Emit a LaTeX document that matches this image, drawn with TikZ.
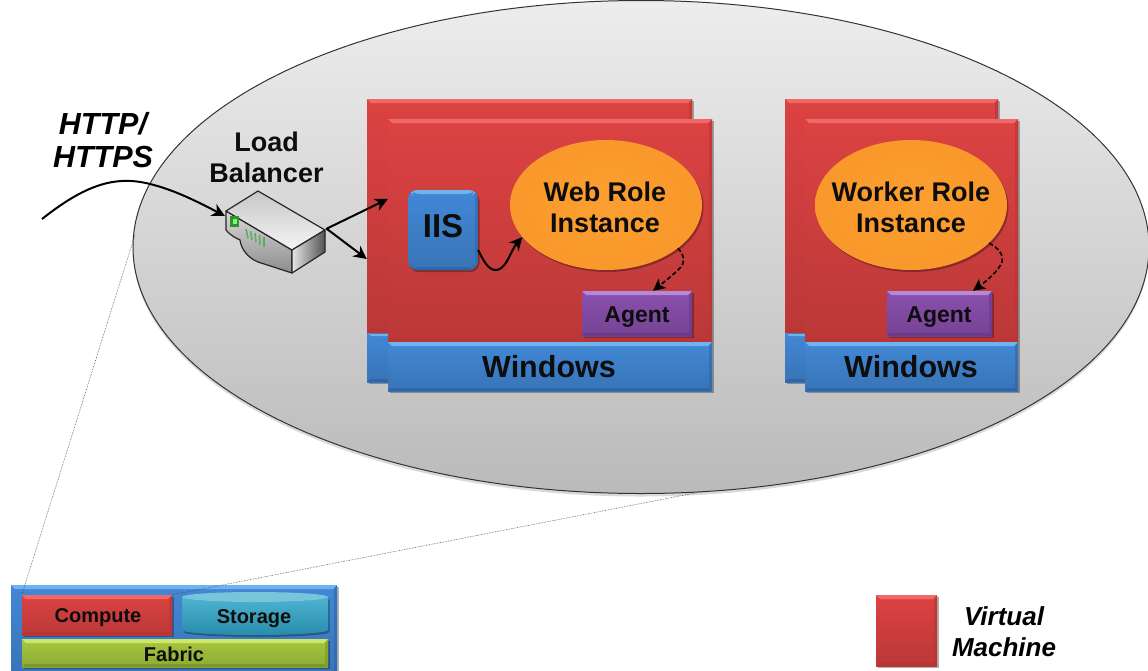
\documentclass[tikz,border=0pt]{standalone}
\usepackage{fontspec}
\setmainfont{Liberation Sans}
\usetikzlibrary{shapes.geometric,shadows,arrows.meta}
\definecolor{redm}{HTML}{DC4242}
\definecolor{redl}{HTML}{EE6A68}
\definecolor{redd}{HTML}{B93434}
\definecolor{blum}{HTML}{4288D6}
\definecolor{blul}{HTML}{6FB2F0}
\definecolor{blud}{HTML}{2F66A8}
\definecolor{purm}{HTML}{8A4FAE}
\definecolor{purl}{HTML}{B48AD8}
\definecolor{purd}{HTML}{683A88}
\definecolor{grnm}{HTML}{A6C83E}
\definecolor{grnl}{HTML}{CFE66E}
\definecolor{grnd}{HTML}{7C982C}
\definecolor{orga}{HTML}{FC9F30}
\definecolor{orgb}{HTML}{F8962A}
\definecolor{orgc}{HTML}{EA8822}
\definecolor{orgd}{HTML}{C86E14}
\definecolor{tealm}{HTML}{2FA6C8}
\pgfdeclareradialshading{ovalshade}{\pgfpoint{0bp}{0bp}}{color(0bp)=(orga);color(32bp)=(orgb);color(44bp)=(orgc);color(50bp)=(orgd)}
\tikzset{
  softshadow/.style={drop shadow={shadow xshift=1.5pt,shadow yshift=-2pt,fill=black,opacity=.3}},
  bevelled/.style n args={3}{rectangle,inner sep=0pt,softshadow,top color=#1,bottom color=#1!85!black,
    path picture={
      \fill[#2] (path picture bounding box.north west) -- (path picture bounding box.north east)
        -- ([xshift=-4pt,yshift=-4pt]path picture bounding box.north east)
        -- ([xshift=4pt,yshift=-4pt]path picture bounding box.north west) -- cycle;
      \fill[#3] (path picture bounding box.south west) -- (path picture bounding box.south east)
        -- ([xshift=-3pt,yshift=3pt]path picture bounding box.south east)
        -- ([xshift=3pt,yshift=3pt]path picture bounding box.south west) -- cycle;
      \fill[#3,opacity=.6] (path picture bounding box.north east) -- (path picture bounding box.south east)
        -- ([xshift=-3pt,yshift=3pt]path picture bounding box.south east)
        -- ([xshift=-3pt,yshift=-4pt]path picture bounding box.north east) -- cycle;
    }},
  redbox/.style={bevelled={redm}{redl}{redd}},
  blubox/.style={bevelled={blum}{blul}{blud}},
  purbox/.style={bevelled={purm}{purl}{purd}},
  grnbox/.style={bevelled={grnm}{grnl}{grnd}},
  roleoval/.style={ellipse,inner sep=0pt,minimum width=192pt,minimum height=130pt,softshadow,shading=ovalshade},
  lbl/.style={font=\bfseries\fontsize{#1}{#1}\selectfont,align=center,text=black!95,inner sep=0pt},
  arrowline/.style={line width=2pt,-{Stealth[length=13pt,width=13pt,inset=4pt]}},
  dashline/.style={line width=1.6pt,dash pattern=on 4.5pt off 2.5pt,-{Stealth[length=12pt,width=12pt,inset=3pt]}},
  zoomline/.style={line width=.6pt,densely dotted,black!70},
}
\begin{document}
\begin{tikzpicture}[x=1pt,y=-1pt]
\useasboundingbox (0,0) rectangle (1148,670);
\begin{scope}
\clip (0,0) rectangle (1148,670);
\node[ellipse,draw=black!80,line width=1pt,inner sep=0pt,minimum width=1016pt,minimum height=493pt,
  top color=black!7,bottom color=black!27,
  drop shadow={shadow xshift=0pt,shadow yshift=-3pt,fill=black,opacity=.15}] (cloud) at (641,247) {};
% fabric block
\node[blubox,minimum width=326pt,minimum height=90pt] (fabricbox) at (174,630) {};
\node[redbox,minimum width=150pt,minimum height=40pt] (compute) at (97,615) {};
\node[lbl={20}] (computelbl) at (98,618) {Compute};
\path[softshadow,top color=tealm!85!white,bottom color=tealm!85!black]
  (182,597) arc[x radius=73,y radius=5,start angle=180,end angle=0] -- (328,630)
  arc[x radius=73,y radius=5,start angle=0,end angle=180] -- cycle;
\fill[tealm!65!white] (255,597) ellipse[x radius=73,y radius=5];
\node[lbl={20}] (storage) at (254,619) {Storage};
\node[grnbox,minimum width=306pt,minimum height=28pt] (fabric) at (175,653) {};
\node[lbl={20}] (fabriclbl) at (174,654) {Fabric};
\end{scope}
\coordinate (zl1) at (135,235);
\coordinate (zl2) at (700,492);
\draw[zoomline] (zl1) -- (compute.north west);
\draw[zoomline] (zl2) -- (compute.north east);
% web role stack
\node[blubox,minimum width=325pt,minimum height=50pt] (winb1) at (529.5,357) {};
\node[redbox,minimum width=325pt,minimum height=233pt] (vmb1) at (529.5,215.5) {};
\node[redbox,minimum width=324pt,minimum height=223pt] (vm1) at (550,230.5) {};
\node[blubox,minimum width=324pt,minimum height=49pt] (win1) at (550,366.5) {};
\node[lbl={30.5}] (win1lbl) at (549,366.5) {Windows};
\node[bevelled={blum}{blul}{blud},rounded corners=9pt,minimum width=70pt,minimum height=80pt] (iis) at (443,230) {};
\node[lbl={33}] (iislbl) at (443,226.5) {IIS};
\node[roleoval] (web) at (606,205) {};
\node[lbl={27}] (weblbl) at (605,207.5) {Web Role\\[4pt]Instance};
\node[purbox,minimum width=110pt,minimum height=45pt] (agent1) at (637,313.5) {};
\node[lbl={23}] (agent1lbl) at (637,317) {Agent};
% worker role stack
\node[blubox,minimum width=213pt,minimum height=50pt] (winb2) at (891.5,357) {};
\node[redbox,minimum width=213pt,minimum height=233pt] (vmb2) at (891.5,215.5) {};
\node[redbox,minimum width=213pt,minimum height=223pt] (vm2) at (911.5,230.5) {};
\node[blubox,minimum width=213pt,minimum height=49pt] (win2) at (911.5,366.5) {};
\node[lbl={30.5}] (win2lbl) at (911,366.5) {Windows};
\node[roleoval] (worker) at (911,205) {};
\node[lbl={27}] (workerlbl) at (911,207.5) {Worker Role\\[4pt]Instance};
\node[purbox,minimum width=105pt,minimum height=45pt] (agent2) at (939.5,313.5) {};
\node[lbl={23}] (agent2lbl) at (939,317) {Agent};
% load balancer
\node[inner sep=0pt,minimum width=100pt,minimum height=84pt] (lb) at (275.5,231) {};
\begin{scope}[line width=1.2pt,draw=black!85,line join=round]
\draw[top color=white!85!black,bottom color=black!45] (226,211) -- (226,230) .. controls (231,236) and (236,238) .. (240,240)
  .. controls (241,249) and (248,258) .. (258,262) -- (292,273) -- (292,250) -- cycle;
\draw[top color=black!22,bottom color=black!4] (258,191) -- (325,230) -- (292,250) -- (226,211) -- cycle;
\draw[left color=black!10,right color=black!68] (292,250) -- (325,230) -- (325,252) -- (292,273) -- cycle;
\end{scope}
\fill[green!45!black!80] (230,216) rectangle (239,227);
\fill[green!55!white] (232.5,219) rectangle (236.5,224);
\foreach \i in {0,1,2,3,4}
  \draw[green!50!black!65,line width=1.5pt] (246+\i*4.5,229+\i*2) -- (248+\i*4,238+\i*2.2);
\coordinate (lbin) at (225,216);
\coordinate (lbout1) at (326,229);
\coordinate (lbout2) at (327,229);
\coordinate (httpstart) at (42,219);
% connectors
\draw[arrowline] (httpstart) .. controls (85,185) and (115,175) .. (150,184) .. controls (175,190) and (200,203) .. (lbin);
\draw[arrowline] (lbout1) -- (vm1.west |- 0,199);
\draw[arrowline] (lbout2) -- (vmb1.west |- 0,259);
\draw[arrowline] (iis.east |- 0,250) .. controls (484,262) and (489,271) .. (497,270) .. controls (507,268) and (511,250) .. (web.201);
\draw[dashline] (web.-31) .. controls (684,255) and (686,262) .. (680,268) .. controls (672,276) and (664,282) .. (agent1.north -| 653,0);
\draw[dashline] (worker.-26) .. controls (999,248) and (1004,256) .. (1002,262) .. controls (998,272) and (985,282) .. (agent2.north -| 973,0);
% labels
\node[font=\bfseries\itshape\fontsize{30.5}{33}\selectfont,align=center,inner sep=0pt] (httplbl) at (103,140) {HTTP/\\HTTPS};
\node[lbl={27}] (lblb) at (266.5,157) {Load\\[4pt]Balancer};
% legend
\node[redbox,minimum width=61pt,minimum height=71pt] (legend) at (906.5,630.5) {};
\node[font=\bfseries\itshape\fontsize{26}{31}\selectfont,align=center,inner sep=0pt] (legendlbl) at (1004,632) {Virtual\\Machine};
\end{tikzpicture}
\end{document}
